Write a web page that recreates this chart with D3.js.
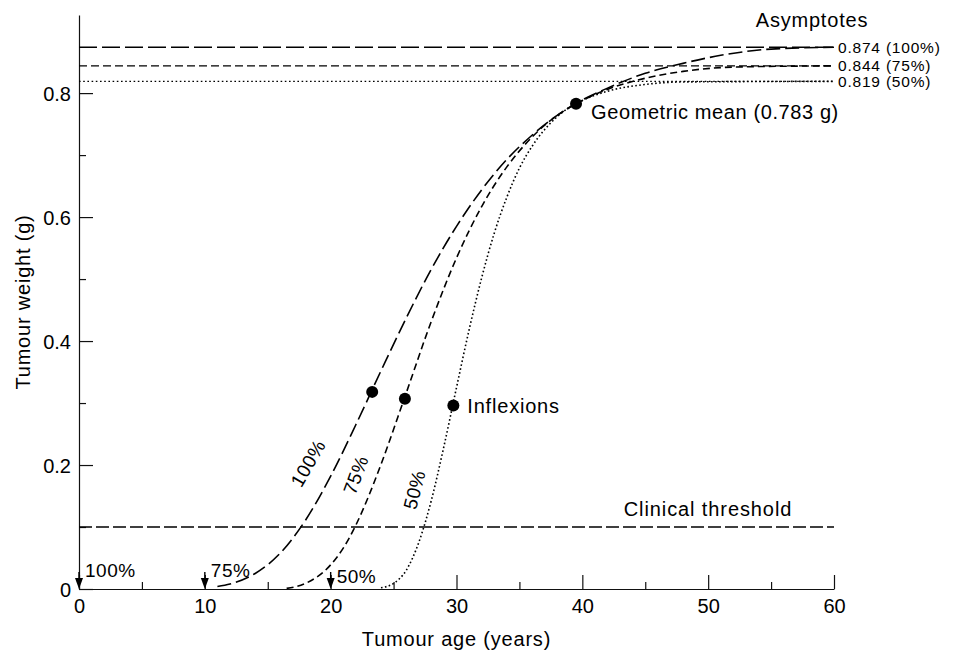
<!DOCTYPE html>
<html>
<head>
<meta charset="utf-8">
<script src="https://cdn.jsdelivr.net/npm/d3@7"></script>
<style>
  body { margin: 0; background: #fff; }
  svg text { font-family: "Liberation Sans", Arial, sans-serif; fill: #000; }
</style>
</head>
<body>
<svg width="955" height="652"></svg>
<script>
// growth curves: [age (years), weight (g)]
var curve100 = [[11, 0.004], [12, 0.008], [14, 0.025], [16, 0.058], [18, 0.111], [20, 0.182],
    [22, 0.265], [24, 0.352], [26, 0.437], [28, 0.516], [30, 0.585], [32, 0.644], [34, 0.693],
    [36, 0.732], [38, 0.764], [40, 0.789], [42, 0.808], [45, 0.832], [48, 0.848], [51, 0.861],
    [55, 0.871], [60, 0.874]];
var curve75 = [[16.5, 0.001], [18, 0.009], [20, 0.039], [21, 0.066], [22, 0.103], [23, 0.149],
    [24, 0.201], [26, 0.316], [28, 0.432], [30, 0.534], [32, 0.617], [34, 0.681], [36, 0.729],
    [38, 0.764], [40, 0.788], [42, 0.806], [45, 0.824], [48, 0.835], [52, 0.842], [60, 0.844]];
var curve50 = [[24, 0.002], [25, 0.009], [26, 0.030], [27, 0.075], [28, 0.143], [29, 0.230],
    [30, 0.325], [31, 0.418], [32, 0.502], [33, 0.574], [34, 0.632], [35, 0.679], [36, 0.714],
    [38, 0.762], [40, 0.788], [42, 0.803], [45, 0.814], [48, 0.818], [60, 0.819]];

var asymptotes = [0.874, 0.844, 0.819];
var asymptoteLabels = ['0.874 (100%)', '0.844 (75%)', '0.819 (50%)'];
var inflexions = [[23.3, 0.318], [25.9, 0.307], [29.75, 0.296]];
var geoMean = [39.5, 0.783];
var threshold = 0.1;
var onsets = [0, 10, 20];
var onsetLabels = ['100%', '75%', '50%'];
var curveLabels = ['100%', '75%', '50%'];
var curveLabelPos = [[18.2, 0.203], [22.0, 0.184], [26.65, 0.160]];

var xMajor = [0, 10, 20, 30, 40, 50, 60];
var xMinor = [5, 15, 25, 35, 45, 55];
var yMajor = [0, 0.2, 0.4, 0.6, 0.8];
var yMinor = [0.1, 0.3, 0.5, 0.7];

var svg = d3.select('svg');
var x = d3.scaleLinear().domain([0, 60]).range([79, 834]);
var y = d3.scaleLinear().domain([0, 0.926]).range([589, 15]);

// axes, ticks pointing inwards
var fmtY = function (d) { return d === 0 ? '0' : d3.format('.1f')(d); };
var gy = svg.append('g').attr('transform', 'translate(' + x(0) + ',0)')
    .call(d3.axisLeft(y).tickValues(yMajor).tickFormat(fmtY).tickSizeInner(-14).tickSizeOuter(0).tickPadding(8));
svg.append('g').attr('transform', 'translate(' + x(0) + ',0)')
    .call(d3.axisLeft(y).tickValues(yMinor).tickFormat('').tickSizeInner(-7).tickSizeOuter(0))
    .select('.domain').remove();
var gx = svg.append('g').attr('transform', 'translate(0,' + y(0) + ')')
    .call(d3.axisBottom(x).tickValues(xMajor).tickSizeInner(-14).tickSizeOuter(0).tickPadding(10));
svg.append('g').attr('transform', 'translate(0,' + y(0) + ')')
    .call(d3.axisBottom(x).tickValues(xMinor).tickFormat('').tickSizeInner(-7).tickSizeOuter(0))
    .select('.domain').remove();
svg.selectAll('.domain, .tick line').attr('stroke', '#111').attr('stroke-width', 1.2);
svg.selectAll('.tick text').attr('font-size', 20).attr('font-family', '"Liberation Sans", Arial, sans-serif').attr('fill', '#000');
gy.selectAll('.tick text').attr('dy', '0.35em');

svg.append('text').attr('x', (x(0) + x(60)) / 2).attr('y', 646)
    .attr('text-anchor', 'middle').attr('font-size', 20).attr('letter-spacing', 0.8)
    .text('Tumour age (years)');
svg.append('text').attr('transform', 'translate(30,' + 302 + ') rotate(-90)')
    .attr('text-anchor', 'middle').attr('font-size', 20).attr('letter-spacing', 0.8)
    .text('Tumour weight (g)');

// asymptotes
var dashes = ['18,5', '8,4', '1.6,2.6'];
svg.selectAll('line.asym').data(asymptotes).enter().append('line')
    .attr('class', 'asym')
    .attr('x1', x(0)).attr('x2', x(60))
    .attr('y1', function (d) { return y(d); }).attr('y2', function (d) { return y(d); })
    .attr('stroke', '#000').attr('stroke-width', 1.4)
    .attr('stroke-dasharray', function (d, i) { return dashes[i]; });
svg.selectAll('text.asym').data(asymptotes).enter().append('text')
    .attr('class', 'asym')
    .attr('x', x(60) + 4).attr('y', function (d) { return y(d); }).attr('dy', '0.35em')
    .attr('font-size', 15.5).attr('letter-spacing', 0.8)
    .text(function (d, i) { return asymptoteLabels[i]; });
svg.append('text').attr('x', 812).attr('y', 27).attr('text-anchor', 'middle')
    .attr('font-size', 20).attr('letter-spacing', 0.8).text('Asymptotes');

// clinical threshold
svg.append('line').attr('x1', x(0)).attr('x2', x(60))
    .attr('y1', y(threshold)).attr('y2', y(threshold))
    .attr('stroke', '#000').attr('stroke-width', 1.4).attr('stroke-dasharray', '13,4');
svg.append('text').attr('x', 708).attr('y', y(threshold) - 11).attr('text-anchor', 'middle')
    .attr('font-size', 20).attr('letter-spacing', 0.9).text('Clinical threshold');

// growth curves
var line = d3.line()
    .x(function (d) { return x(d[0]); })
    .y(function (d) { return y(d[1]); })
    .curve(d3.curveMonotoneX);
var curves = [curve100, curve75, curve50];
var curveDash = ['14,5', '7,4', '1.6,2.4'];
svg.selectAll('path.curve').data(curves).enter().append('path')
    .attr('class', 'curve')
    .attr('d', line)
    .attr('fill', 'none').attr('stroke', '#000').attr('stroke-width', 1.6)
    .attr('stroke-dasharray', function (d, i) { return curveDash[i]; });

// curve labels along the curves
var rot = [-60, -70, -76];
svg.selectAll('text.clab').data(curveLabels).enter().append('text')
    .attr('class', 'clab')
    .attr('transform', function (d, i) {
        return 'translate(' + x(curveLabelPos[i][0]) + ',' + y(curveLabelPos[i][1]) + ') rotate(' + rot[i] + ')';
    })
    .attr('text-anchor', 'middle').attr('dy', '0.35em')
    .attr('font-size', 19).attr('letter-spacing', 0.5)
    .text(function (d) { return d; });

// inflexion points and geometric mean
svg.selectAll('circle.infl').data(inflexions.concat([geoMean])).enter().append('circle')
    .attr('class', 'infl')
    .attr('cx', function (d) { return x(d[0]); })
    .attr('cy', function (d) { return y(d[1]); })
    .attr('r', 6).attr('fill', '#000');
svg.append('text').attr('x', x(inflexions[2][0]) + 14).attr('y', y(inflexions[2][1]))
    .attr('dy', '0.35em').attr('font-size', 20).attr('letter-spacing', 0.8).text('Inflexions');
svg.append('text').attr('x', x(geoMean[0]) + 15).attr('y', y(geoMean[1]) + 8)
    .attr('dy', '0.35em').attr('font-size', 20).attr('letter-spacing', 0.6).text('Geometric mean (0.783 g)');

// onset arrows
var arrows = svg.selectAll('g.onset').data(onsets).enter().append('g')
    .attr('class', 'onset')
    .attr('transform', function (d) { return 'translate(' + x(d) + ',' + y(0) + ')'; });
arrows.append('line').attr('x1', 0).attr('x2', 0).attr('y1', -17).attr('y2', -6)
    .attr('stroke', '#000').attr('stroke-width', 1.4);
arrows.append('path').attr('d', 'M-4,-11L4,-11L0,0Z').attr('fill', '#000');
var labDy = [-12, -12, -6];
arrows.append('text')
    .attr('x', 6).attr('y', function (d, i) { return labDy[i]; })
    .attr('font-size', 19).attr('letter-spacing', 0.5)
    .text(function (d, i) { return onsetLabels[i]; });
</script>
</body>
</html>
